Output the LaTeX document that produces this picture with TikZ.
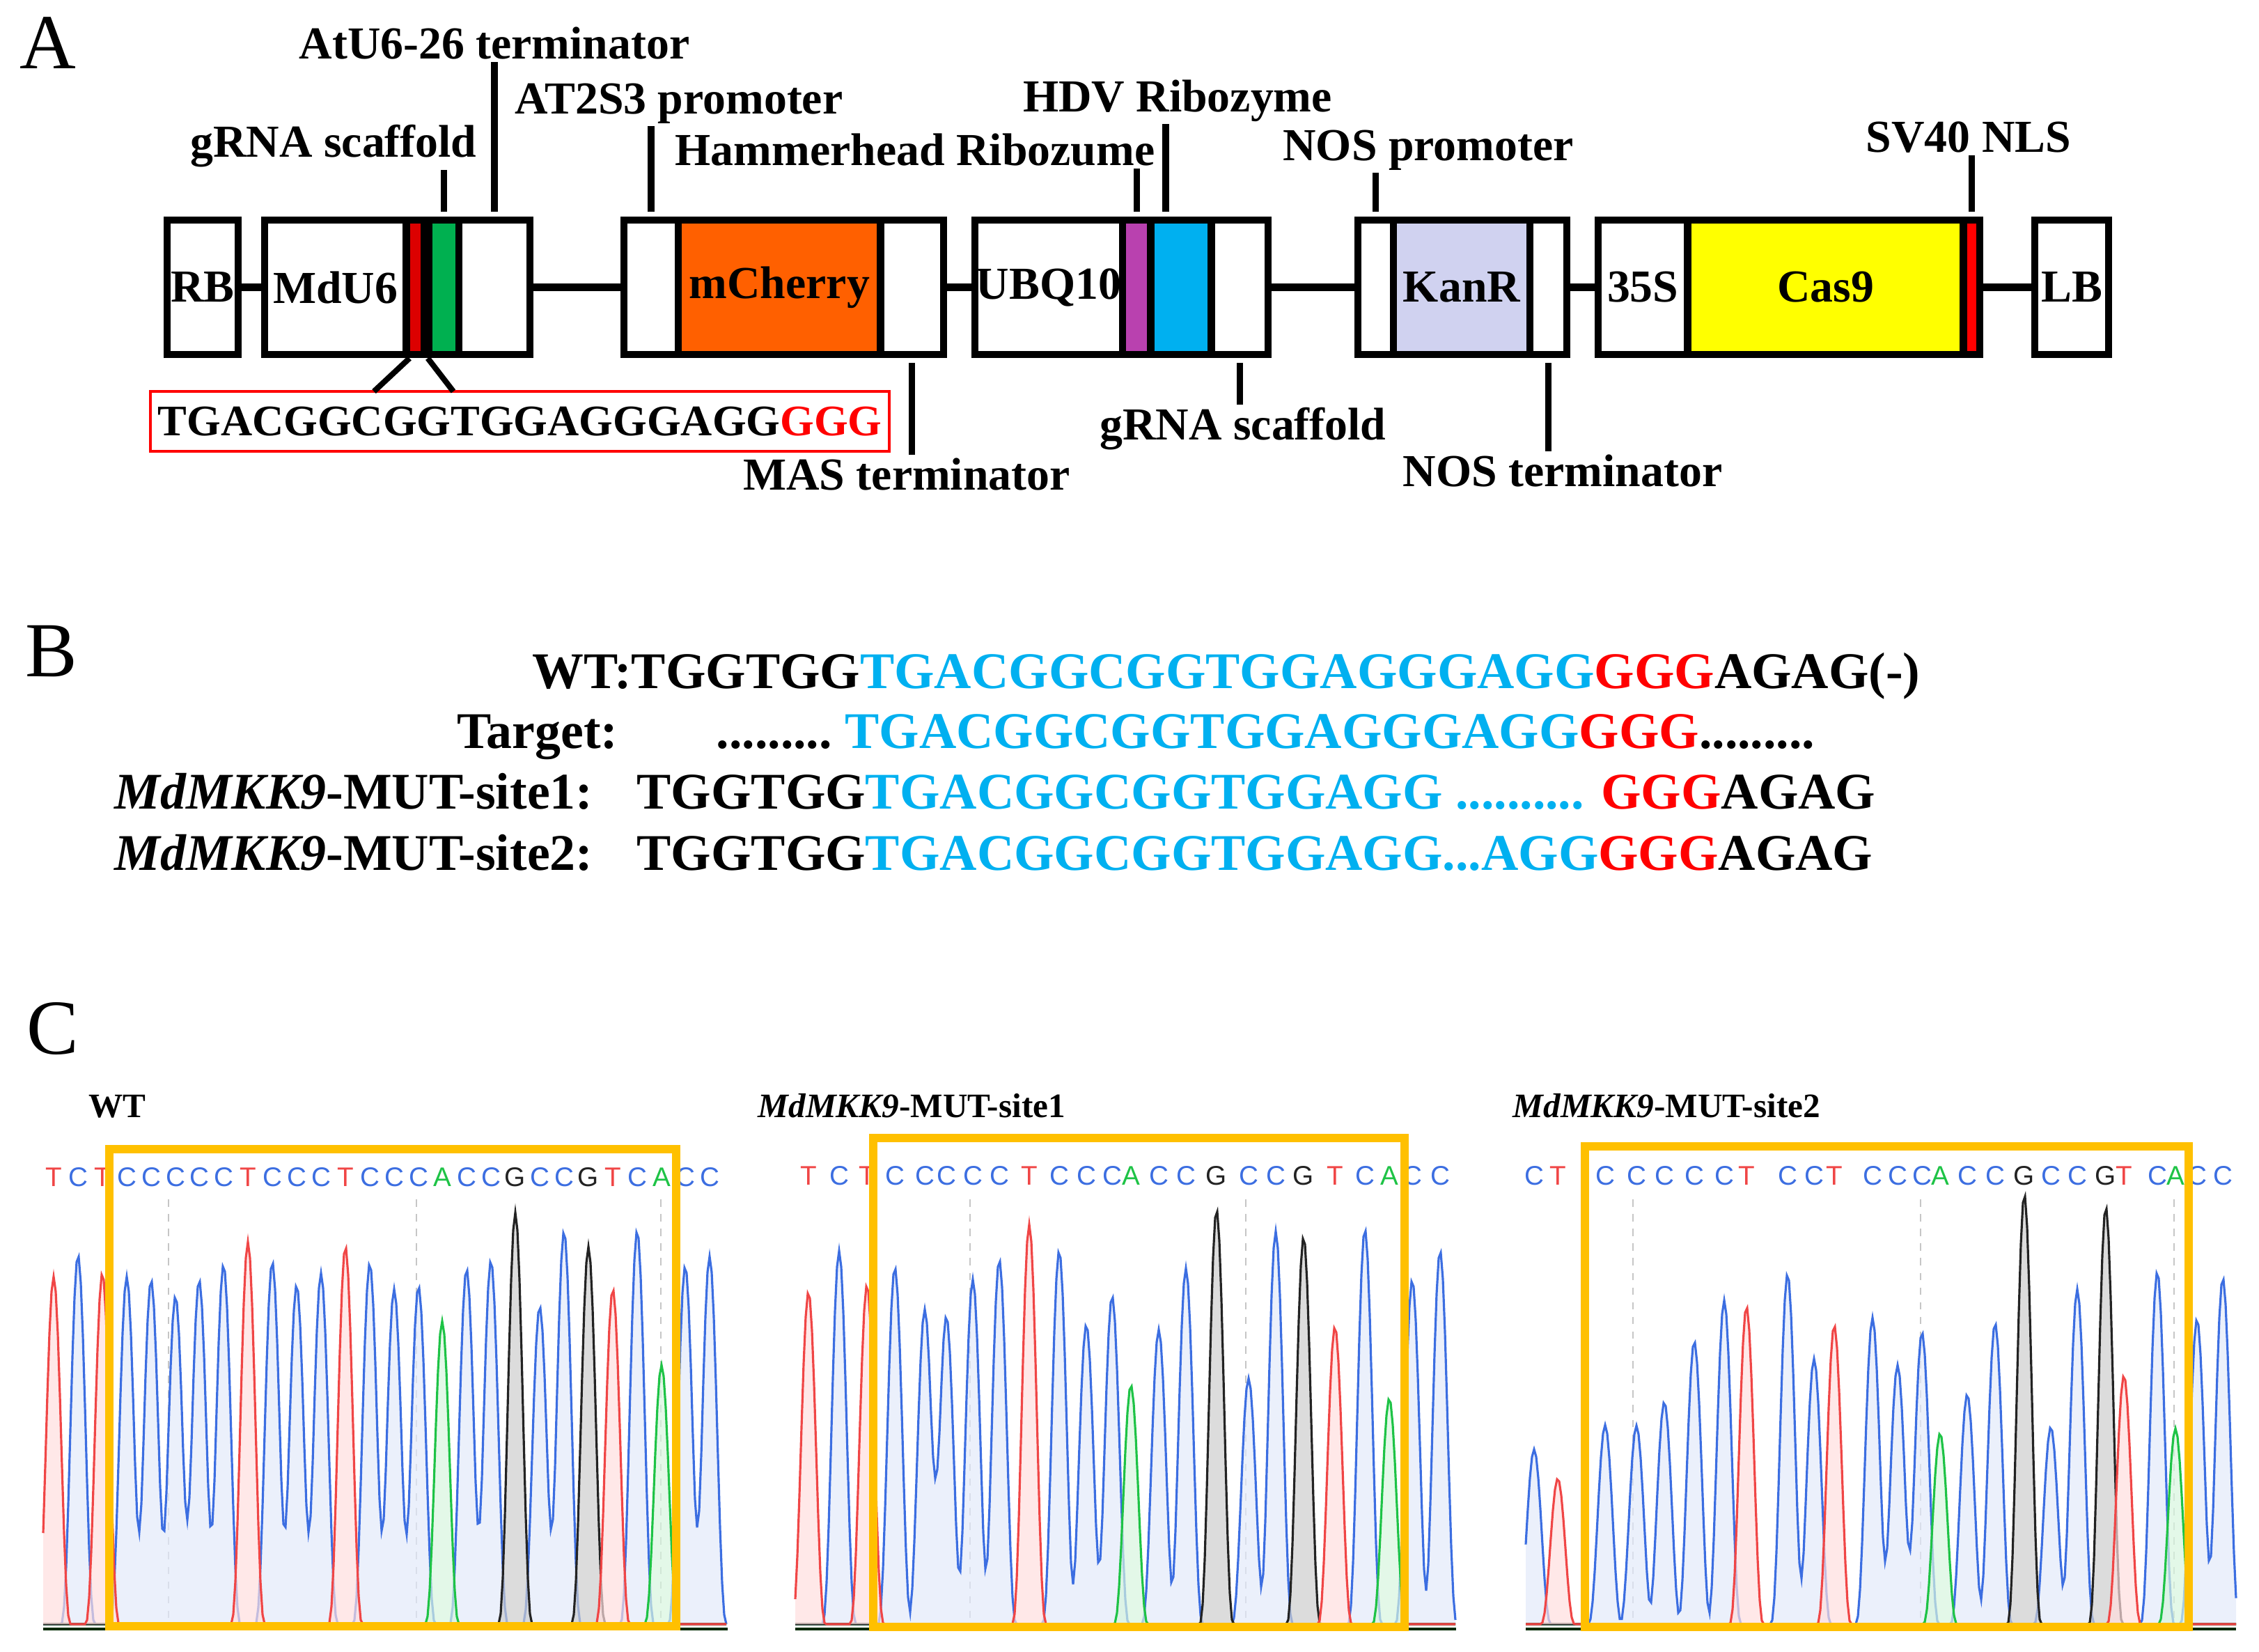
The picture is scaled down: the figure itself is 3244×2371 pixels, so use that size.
\documentclass[tikz,border=0pt]{standalone}
\usepackage{fontspec}
\setmainfont{Liberation Serif}
\setsansfont{Liberation Sans}
\definecolor{cherry}{RGB}{255,96,0}
\definecolor{sgreen}{RGB}{0,176,80}
\definecolor{sred}{RGB}{220,0,0}
\definecolor{hdvblue}{RGB}{0,176,240}
\definecolor{hhpurple}{RGB}{185,65,175}
\definecolor{kanlav}{RGB}{208,210,240}
\definecolor{casyel}{RGB}{255,255,0}
\definecolor{seqblue}{RGB}{0,176,240}
\definecolor{boxorange}{RGB}{255,192,0}
\definecolor{trA}{RGB}{30,195,70}
\definecolor{trC}{RGB}{60,110,225}
\definecolor{trG}{RGB}{35,35,35}
\definecolor{trT}{RGB}{240,70,70}
\definecolor{fA}{RGB}{215,245,222}
\definecolor{fC}{RGB}{226,233,250}
\definecolor{fG}{RGB}{205,205,205}
\definecolor{fT}{RGB}{255,222,222}
\newcommand\boxfont{\fontsize{18.7}{20}\selectfont\bfseries}
\newcommand\seqfont{\fontsize{21}{23}\selectfont\bfseries}
% one trace channel: base letter, peak list x/h/base, first x, last x
\newcommand\peaktrace[4]{%
  \def\chwant{#1}%
  \gdef\trpts{}%
  \pgfmathtruncatemacro\chnext{#3+3}%
  \edef\chrange{#3,\chnext,...,#4}%
  \foreach \chx in \chrange{%
    \gdef\chy{0}%
    \foreach \px/\ph/\pkl in #2{%
      \ifx\pkl\chwant
        \ifdim\dimexpr\chx pt-\px pt\relax<25pt
          \ifdim\dimexpr\chx pt-\px pt\relax>-25pt
            \pgfmathparse{\chy+\ph*(1-((\chx-\px)/25)^2)^3}%
            \xdef\chy{\pgfmathresult}%
          \fi
        \fi
      \fi}%
    \pgfmathparse{2332-\chy}%
    \xdef\trpts{\trpts(\chx,\pgfmathresult)}%
  }%
  \edef\trcmd{\noexpand\fill[f#1,fill opacity=.7] (#3,2332) -- plot coordinates {\trpts} -- (#4,2332) -- cycle;
    \noexpand\draw[tr#1,line width=.9pt] plot coordinates {\trpts};}%
  \trcmd}
\def\wtpk{77/499/T,112/530/C,147/504/T,182/499/C,217/494/C,252/471/C,286/494/C,321/516/C,356/549/T,391/520/C,
426/487/C,461/504/C,496/542/T,531/518/C,566/481/C,601/485/C,635/435/A,670/510/C,705/522/C,740/591/G,
775/456/C,810/564/C,845/542/G,880/481/T,915/565/C,950/372/A,984/514/C,1019/528/C}
\def\mia{1161/477/T,1205/536/C,1245/487/T,1285/512/C,1328/452/C,1359/442/C,1397/495/C,1435/523/C,1478/574/T,
1521/536/C,1560/430/C,1597/471/C,1624/343/A,1664/423/C,1703/511/C,1747/595/G,1793/353/C,1832/564/C,
1872/556/G,1917/427/T,1960/567/C,1995/324/A,2028/494/C,2068/536/C}
\def\mib{2203/251/C,2237/209/T,2305/286/C,2350/285/C,2390/319/C,2433/406/C,2476/465/C,2508/456/T,2567/503/C,
2605/381/C,2634/429/T,2689/440/C,2725/372/C,2760/419/C,2786/274/A,2825/330/C,2865/432/C,2907/617/G,
2945/283/C,2983/481/C,3024/599/G,3050/357/T,3098/506/C,3124/281/A,3155/438/C,3192/497/C}
\begin{document}
\begin{tikzpicture}[x=0.01cm,y=-0.01cm,
    seg/.style={draw,line width=3pt,minimum height=1.93cm,inner sep=0pt,font=\boxfont},
    lbl/.style={font=\boxfont,inner sep=1pt,anchor=base},
    tick/.style={line width=2.6pt,shorten <=2pt},
    lead/.style={line width=2.3pt},
    link/.style={line width=3pt},
    panel/.style={font=\fontsize{31.8}{34}\selectfont,anchor=base west,inner sep=0pt},
    seqline/.style={font=\seqfont,anchor=base west,inner sep=0pt},
    trlabel/.style={font=\fontsize{14}{16}\selectfont\bfseries,anchor=base west,inner sep=0pt},
    base/.style={font=\sffamily\fontsize{11}{12}\selectfont,inner sep=0pt},
    guide/.style={gray!45,dashed,line width=.6pt},
    hilite/.style={draw=boxorange,line width=3.4pt}]
  \useasboundingbox (0,0) rectangle (3244,2371);
  % A: construct
  \node[panel] (pa) at (28,98) {A};
  \node[seg,minimum width=1.02cm] (rb) at (291,412.5) {RB};
  \node[seg,minimum width=2.035cm] (md) at (481.75,412.5) {MdU6};
  \node[seg,minimum width=0.255cm,fill=sred] (rd) at (596.25,412.5) {};
  \node[seg,minimum width=0.43cm,fill=sgreen] (gn) at (637.5,412.5) {};
  \node[seg,minimum width=1.02cm] (t1) at (710,412.5) {};
  \node[seg,minimum width=0.78cm] (p2) at (935,412.5) {};
  \node[seg,minimum width=2.905cm,fill=cherry] (mc) at (1119.25,412.5) {mCherry};
  \node[seg,minimum width=0.905cm] (t2) at (1309.75,412.5) {};
  \node[seg,minimum width=2.12cm] (ub) at (1506,412.5) {UBQ10};
  \node[seg,minimum width=0.405cm,fill=hhpurple] (pu) at (1632.25,412.5) {};
  \node[seg,minimum width=0.87cm,fill=hdvblue] (bl) at (1696,412.5) {};
  \node[seg,minimum width=0.815cm] (t3) at (1780.25,412.5) {};
  \node[seg,minimum width=0.51cm] (np) at (1975.5,412.5) {};
  \node[seg,minimum width=1.96cm,fill=kanlav] (kan) at (2099,412.5) {KanR};
  \node[seg,minimum width=0.53cm] (t4) at (2223.5,412.5) {};
  \node[seg,minimum width=1.285cm] (s35) at (2359.25,412.5) {35S};
  \node[seg,minimum width=3.96cm,fill=casyel] (cas) at (2621.5,412.5) {Cas9};
  \node[seg,minimum width=0.235cm,fill=red] (nls) at (2831.25,412.5) {};
  \node[seg,minimum width=1.06cm] (lb) at (2975,412.5) {LB};
  \draw[link] (rb) -- (md);
  \draw[link] (t1) -- (p2);
  \draw[link] (t2) -- (ub);
  \draw[link] (t3) -- (np);
  \draw[link] (t4) -- (s35);
  \draw[link] (nls) -- (lb);
  % element labels
  \node[lbl] (gsu) at (479,225) {gRNA scaffold};
  \node[lbl] (atu) at (710,84) {AtU6-26 terminator};
  \node[lbl] (at2) at (975,163) {AT2S3 promoter};
  \node[lbl] (ham) at (1314,237) {Hammerhead Ribozume};
  \node[lbl] (hdv) at (1691,160) {HDV Ribozyme};
  \node[lbl] (nosp) at (2051,230) {NOS promoter};
  \node[lbl] (sv) at (2827,218) {SV40 NLS};
  \node[lbl] (mas) at (1302,703) {MAS terminator};
  \node[lbl] (gsd) at (1785,631) {gRNA scaffold};
  \node[lbl] (nost) at (2244,698) {NOS terminator};
  \coordinate (hdvx) at (1674,311);
  \draw[tick] (gn.north) -- (gn.north |- gsu.south);
  \draw[tick] (t1.north) -- (t1.north |- atu.south);
  \draw[tick] (p2.north) -- (p2.north |- at2.south);
  \draw[tick] (pu.north) -- (pu.north |- ham.south);
  \draw[tick] (hdvx) -- (hdvx |- hdv.south);
  \draw[tick] (np.north) -- (np.north |- nosp.south);
  \draw[tick] (nls.north) -- (nls.north |- sv.south);
  \draw[tick] (t2.south) -- (t2.south |- mas.north);
  \draw[tick] (t3.south) -- (t3.south |- gsd.north);
  \draw[tick] (t4.south) -- (t4.south |- nost.north);
  % target sequence
  \node[draw=red,line width=1.2pt,minimum width=10.61cm,minimum height=0.86cm,inner sep=0pt,
    font=\fontsize{17.8}{19}\selectfont\bfseries] (sgt) at (746.5,605)
    {TGACGGCGGTGGAGGGAGG\textcolor{red}{GGG}};
  \coordinate (sqa) at (537,562);
  \coordinate (sqb) at (651,562);
  \draw[lead] ([xshift=2.8pt]rd.south west) -- (sqa);
  \draw[lead] (rd.south east) -- (sqb);
  % B: alignment
  \node[panel] (pb) at (36,971) {B};
  \node[seqline] (wt) at (764,988)
    {WT:TGGTGG\textcolor{seqblue}{TGACGGCGGTGGAGGGAGG}\textcolor{red}{GGG}AGAG(-)};
  \node[seqline,anchor=base east] (tgl) at (888,1074) {Target:};
  \node[seqline] (tgs) at (1028,1074)
    {.........\ \textcolor{seqblue}{TGACGGCGGTGGAGGGAGG}\textcolor{red}{GGG}.........};
  \node[seqline,anchor=base east] (m1l) at (852,1161) {\textit{MdMKK9}-MUT-site1:};
  \node[seqline] (m1s) at (914,1161)
    {TGGTGG\textcolor{seqblue}{TGACGGCGGTGGAGG .......... }\textcolor{red}{GGG}AGAG};
  \node[seqline,anchor=base east] (m2l) at (852,1249) {\textit{MdMKK9}-MUT-site2:};
  \node[seqline] (m2s) at (914,1249)
    {TGGTGG\textcolor{seqblue}{TGACGGCGGTGGAGG...AGG}\textcolor{red}{GGG}AGAG};
  % C: chromatograms
  \node[panel] (pc) at (38,1513) {C};
  \node[trlabel] (cwt) at (127,1604) {WT};
  \node[trlabel] (cm1) at (1088,1604) {\textit{MdMKK9}-MUT-site1};
  \node[trlabel] (cm2) at (2172,1604) {\textit{MdMKK9}-MUT-site2};
  \foreach \gx in {242,598,949,1393,1789,2345,2758,3122}
    \draw[guide] (\gx,1722) -- (\gx,2330);
  \peaktrace{C}{\wtpk}{62}{1045}
  \peaktrace{A}{\wtpk}{62}{1045}
  \peaktrace{G}{\wtpk}{62}{1045}
  \peaktrace{T}{\wtpk}{62}{1045}
  \peaktrace{C}{\mia}{1142}{2091}
  \peaktrace{A}{\mia}{1142}{2091}
  \peaktrace{G}{\mia}{1142}{2091}
  \peaktrace{T}{\mia}{1142}{2091}
  \peaktrace{C}{\mib}{2191}{3211}
  \peaktrace{A}{\mib}{2191}{3211}
  \peaktrace{G}{\mib}{2191}{3211}
  \peaktrace{T}{\mib}{2191}{3211}
  \foreach \px/\ph/\pkl [count=\i] in \wtpk
    \node[base] (wb\i) at (\px,1690) {\textcolor{tr\pkl}{\pkl}};
  \foreach \px/\ph/\pkl [count=\i] in \mia
    \node[base] (ma\i) at (\px,1688) {\textcolor{tr\pkl}{\pkl}};
  \foreach \px/\ph/\pkl [count=\i] in \mib
    \node[base] (mb\i) at (\px,1688) {\textcolor{tr\pkl}{\pkl}};
  \draw[line width=1.2pt,black!60!green!40!black] (62,2339) -- (1045,2339);
  \draw[line width=1.2pt,black!60!green!40!black] (1142,2339) -- (2091,2339);
  \draw[line width=1.2pt,black!60!green!40!black] (2191,2339) -- (3211,2339);
  \draw[hilite] (157,1650) rectangle (971,2335);
  \draw[hilite] (1254,1634) rectangle (2017,2336);
  \draw[hilite] (2276,1646) rectangle (3143,2336);
\end{tikzpicture}
\end{document}
